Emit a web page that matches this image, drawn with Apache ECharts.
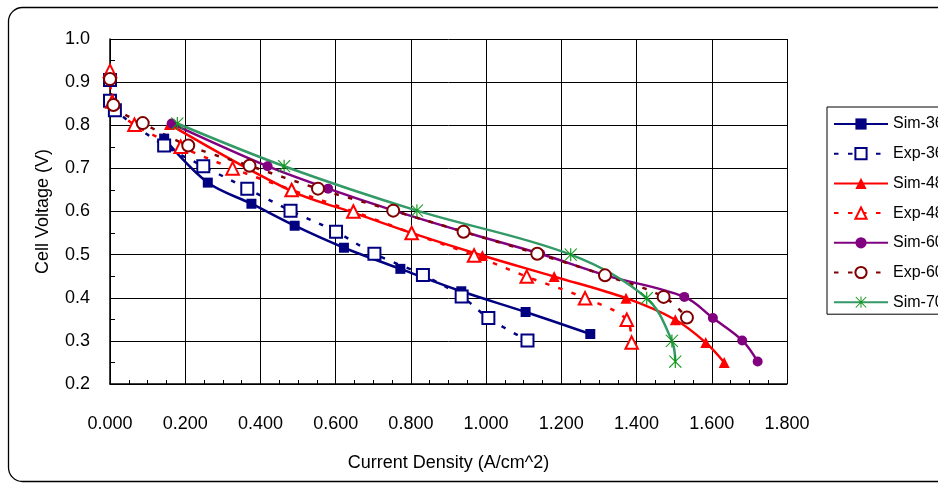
<!DOCTYPE html>
<html>
<head>
<meta charset="utf-8">
<script src="https://cdn.jsdelivr.net/npm/echarts@6/dist/echarts.min.js"></script>
<style>
  html, body { margin: 0; padding: 0; background: #fff; }
  #chart { width: 938px; height: 484px; }
</style>
</head>
<body>
<div id="chart"></div>
<script>
// Polarization curves: cell voltage vs. current density
const xTicks = { min: 0, max: 1.8, step: 0.2 };
const yTicks = { min: 0.2, max: 1.0, step: 0.1 };

const seriesNames = ['Sim-36', 'Exp-36', 'Sim-48', 'Exp-48', 'Sim-60', 'Exp-60', 'Sim-70'];

const sim36X = [0.144, 0.260, 0.376, 0.491, 0.622, 0.772, 0.934, 1.105, 1.277];
const sim36Y = [0.769, 0.667, 0.618, 0.567, 0.516, 0.467, 0.415, 0.367, 0.316];

const exp36X = [0.000, 0.000, 0.013, 0.144, 0.248, 0.365, 0.480, 0.601, 0.703, 0.832, 0.935, 1.006, 1.110];
const exp36Y = [0.905, 0.857, 0.835, 0.753, 0.705, 0.653, 0.602, 0.553, 0.502, 0.453, 0.403, 0.353, 0.301];

const sim48X = [0.158, 0.483, 0.645, 0.803, 0.990, 1.181, 1.372, 1.503, 1.584, 1.633];
const sim48Y = [0.802, 0.647, 0.598, 0.550, 0.498, 0.449, 0.399, 0.349, 0.296, 0.250];

const exp48X = [0.000, 0.006, 0.065, 0.188, 0.326, 0.483, 0.647, 0.802, 0.968, 1.108, 1.263, 1.374, 1.387];
const exp48Y = [0.926, 0.855, 0.801, 0.750, 0.700, 0.650, 0.600, 0.550, 0.498, 0.449, 0.399, 0.349, 0.296];

const sim60X = [0.164, 0.419, 0.580, 0.755, 0.940, 1.144, 1.318, 1.527, 1.603, 1.681, 1.722];
const sim60Y = [0.804, 0.705, 0.653, 0.602, 0.553, 0.502, 0.452, 0.402, 0.353, 0.301, 0.252];

const exp60X = [0.000, 0.009, 0.087, 0.208, 0.371, 0.553, 0.753, 0.940, 1.136, 1.316, 1.472, 1.534];
const exp60Y = [0.907, 0.847, 0.805, 0.753, 0.706, 0.653, 0.602, 0.553, 0.502, 0.452, 0.402, 0.354];

const sim70X = [0.179, 0.463, 0.816, 1.225, 1.427, 1.494, 1.503];
const sim70Y = [0.804, 0.705, 0.602, 0.500, 0.399, 0.300, 0.252];

const zip = (xs, ys) => xs.map((x, i) => [x, ys[i]]);

const FONT = '"Liberation Sans", Arial, sans-serif';
const SMOOTH = 0.35;
const DASH = [4.5, 9.5];

// six-armed asterisk marker: vertical bar plus an X
const ASTERISK = 'path://M9.3,0L10.7,0L10.7,20L9.3,20Z' +
  'M2.2,1.1L3.3,0.2L17.8,18.9L16.7,19.8Z' +
  'M16.7,0.2L17.8,1.1L3.3,19.8L2.2,18.9Z';

function simSeries(name, data, color, symbol, size, extra) {
  return Object.assign({
    name, type: 'line', data, smooth: SMOOTH,
    symbol, symbolSize: size,
    lineStyle: { color, width: 2.5 },
    itemStyle: { color },
    emphasis: { disabled: true }
  }, extra || {});
}

function expSeries(name, data, color, symbol, size) {
  return {
    name, type: 'line', data, smooth: SMOOTH,
    symbol, symbolSize: size,
    lineStyle: { color, width: 2.5, type: DASH },
    itemStyle: { color, borderWidth: 1.4 },
    emphasis: { disabled: true }
  };
}

const chart = echarts.init(document.getElementById('chart'), null, { renderer: 'canvas' });

chart.setOption({
  animation: false,
  backgroundColor: '#fff',
  textStyle: { fontFamily: FONT, color: '#000' },
  graphic: [{
    type: 'rect',
    shape: { x: 8.5, y: 7.5, width: 980, height: 474, r: 14 },
    style: { fill: 'none', stroke: '#000', lineWidth: 1.3 },
    silent: true, z: -10
  }],
  grid: { left: 110, right: 151, top: 39, bottom: 100, containLabel: false },
  xAxis: {
    type: 'value',
    min: xTicks.min, max: xTicks.max, interval: xTicks.step,
    name: 'Current Density (A/cm^2)',
    nameLocation: 'middle', nameGap: 70,
    nameTextStyle: { fontSize: 18, color: '#000', fontFamily: FONT },
    axisLine: { show: true, onZero: false, lineStyle: { color: '#000', width: 1.5 } },
    axisTick: { show: true, inside: true, length: 5, lineStyle: { color: '#000' } },
    minorTick: { show: true, splitNumber: 4, length: 4, lineStyle: { color: '#000' } },
    axisLabel: {
      fontSize: 18, color: '#000', margin: 31, fontFamily: FONT,
      formatter: v => v.toFixed(3)
    },
    splitLine: { show: true, lineStyle: { color: '#000', width: 1 } }
  },
  yAxis: {
    type: 'value',
    min: yTicks.min, max: yTicks.max, interval: yTicks.step,
    name: 'Cell Voltage (V)',
    nameLocation: 'middle', nameGap: 58,
    nameTextStyle: { fontSize: 18, color: '#000', fontFamily: FONT },
    axisLine: { show: true, onZero: false, lineStyle: { color: '#000', width: 1.5 } },
    axisTick: { show: true, inside: true, length: 5, lineStyle: { color: '#000' } },
    minorTick: { show: true, splitNumber: 2, length: 5, lineStyle: { color: '#000' } },
    axisLabel: {
      fontSize: 18, color: '#000', margin: 20, fontFamily: FONT,
      formatter: v => v.toFixed(1)
    },
    splitLine: { show: true, lineStyle: { color: '#000', width: 1 } }
  },
  legend: {
    data: seriesNames,
    orient: 'vertical',
    left: 827, top: 107,
    padding: [9, 10, 4, 6],
    itemWidth: 54, itemHeight: 14, itemGap: 13.7,
    backgroundColor: '#fff',
    borderColor: '#000', borderWidth: 1,
    textStyle: { fontSize: 16, color: '#000', fontFamily: FONT },
    selectedMode: false
  },
  series: [
    simSeries('Sim-36', zip(sim36X, sim36Y), '#000080', 'rect', 10),
    expSeries('Exp-36', zip(exp36X, exp36Y), '#000080', 'emptyRect', 12),
    simSeries('Sim-48', zip(sim48X, sim48Y), '#ff0000', 'triangle', 11),
    expSeries('Exp-48', zip(exp48X, exp48Y), '#ff0000', 'emptyTriangle', 12.5),
    simSeries('Sim-60', zip(sim60X, sim60Y), '#800080', 'circle', 10),
    expSeries('Exp-60', zip(exp60X, exp60Y), '#800000', 'emptyCircle', 12),
    simSeries('Sim-70', zip(sim70X, sim70Y), '#339966', ASTERISK, 13, {
      itemStyle: { color: '#11991a' }
    })
  ]
});
</script>
</body>
</html>
